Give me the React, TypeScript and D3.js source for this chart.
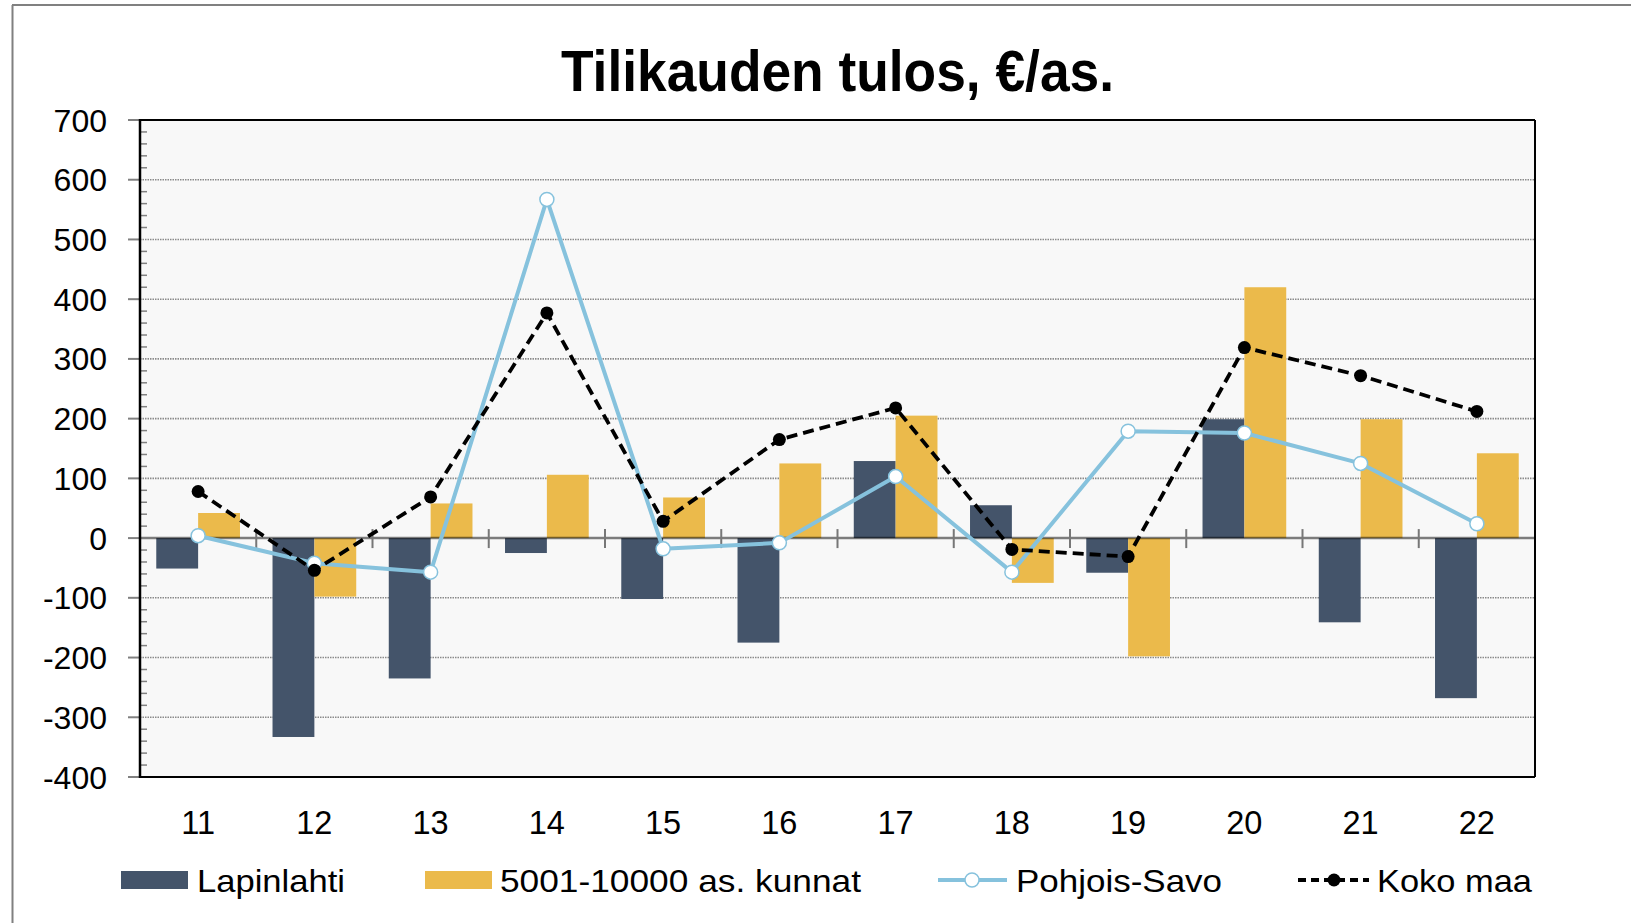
import React from "react";
import * as d3 from "d3";

const categories = ["11", "12", "13", "14", "15", "16", "17", "18", "19", "20", "21", "22"];
const lapinlahti = [-51, -333, -235, -25, -102, -175, 129, 55, -58, 199, -141, -268];
const kunnat = [42, -98, 58, 106, 68, 125, 205, -75, -198, 420, 199, 142];
const pohjoisSavo = [4, -42, -57, 567, -18, -8, 103, -57, 179, 176, 125, 24];
const kokoMaa = [78, -54, 69, 377, 28, 165, 218, -19, -31, 319, 272, 212];
const yTicks = [700, 600, 500, 400, 300, 200, 100, 0, -100, -200, -300, -400];
const barSeries = ["Lapinlahti", "5001-10000 as. kunnat"];
const title = "Tilikauden tulos, €/as.";

const W = 1631;
const H = 923;
const L = 140, R = 1535, T = 120, B = 777;
const FONT = "'Liberation Sans', Arial, sans-serif";
const DARK = "#44546A";
const YELLOW = "#EBBA4B";
const BLUE = "#86C2DD";

export default function App() {
  const x0 = d3.scaleBand<string>().domain(categories).range([L, R]).paddingInner(0.28).paddingOuter(0.14);
  const x1 = d3.scaleBand<string>().domain(barSeries).range([0, x0.bandwidth()]).padding(0);
  const y = d3.scaleLinear().domain([-400, 700]).range([B, T]);
  const cx = (c: string) => (x0(c) as number) + x0.bandwidth() / 2;
  const minorTicks = d3.range(-400, 701, 20).filter((v) => v % 100 !== 0);
  const lineGen = d3.line<[number, number]>().x((d) => d[0]).y((d) => d[1]);
  const psPts: [number, number][] = categories.map((c, i) => [cx(c), y(pohjoisSavo[i])]);
  const kmPts: [number, number][] = categories.map((c, i) => [cx(c), y(kokoMaa[i])]);
  const step = x0.step();
  const boundaries = d3.range(1, categories.length).map((i) => L + i * step);

  return (
    <svg width={W} height={H} style={{ position: "absolute", left: 0, top: 0, background: "#fff" }} fontFamily={FONT}>
      <line x1={12.5} y1={5} x2={12.5} y2={H} stroke="#808080" strokeWidth={2} />
      <line x1={12} y1={5} x2={W} y2={5} stroke="#808080" strokeWidth={2} />
      <text x={(L + R) / 2} y={91} textAnchor="middle" fontSize={57} fontWeight="bold" textLength={553} lengthAdjust="spacingAndGlyphs">{title}</text>

      <rect x={L} y={T} width={R - L} height={B - T} fill="#F8F8F8" />
      {yTicks.filter((v) => v !== 0 && v !== 700 && v !== -400).map((v) => (
        <line key={"g" + v} x1={L} x2={R} y1={y(v)} y2={y(v)} stroke="#8a8a8a" strokeWidth={1.6} strokeDasharray="1.5,1" />
      ))}

      {categories.map((c, i) => (
        <g key={"b" + c}>
          <rect x={(x0(c) as number) + (x1(barSeries[0]) as number)} width={x1.bandwidth()} y={Math.min(y(0), y(lapinlahti[i]))} height={Math.abs(y(lapinlahti[i]) - y(0))} fill={DARK} />
          <rect x={(x0(c) as number) + (x1(barSeries[1]) as number)} width={x1.bandwidth()} y={Math.min(y(0), y(kunnat[i]))} height={Math.abs(y(kunnat[i]) - y(0))} fill={YELLOW} />
        </g>
      ))}

      <line x1={L} x2={R} y1={y(0)} y2={y(0)} stroke="#000" strokeOpacity={0.5} strokeWidth={2.5} />
      {boundaries.map((bx, i) => (
        <line key={"xt" + i} x1={bx} x2={bx} y1={y(0) - 9} y2={y(0) + 10} stroke="#777" strokeWidth={2} />
      ))}

      <line x1={L} x2={R} y1={T} y2={T} stroke="#000" strokeWidth={2} />
      <line x1={R} x2={R} y1={T} y2={B} stroke="#000" strokeWidth={2} />
      <line x1={L} x2={R} y1={B} y2={B} stroke="#000" strokeWidth={2} />
      {yTicks.map((v) => (
        <line key={"mt" + v} x1={L - 12} x2={L} y1={y(v)} y2={y(v)} stroke="#808080" strokeWidth={2} />
      ))}
      {minorTicks.map((v) => (
        <line key={"mn" + v} x1={L} x2={L + 7} y1={y(v)} y2={y(v)} stroke="#808080" strokeWidth={1.5} />
      ))}
      <line x1={L} x2={L} y1={T - 1} y2={B + 1} stroke="#000" strokeWidth={2.5} />

      {yTicks.map((v) => (
        <text key={"yl" + v} x={107} y={y(v) + 11.5} textAnchor="end" fontSize={32}>{v}</text>
      ))}
      {categories.map((c) => (
        <text key={"xl" + c} x={cx(c)} y={834} textAnchor="middle" fontSize={32.5}>{c}</text>
      ))}

      <path d={lineGen(psPts) as string} fill="none" stroke={BLUE} strokeWidth={4} strokeLinejoin="round" />
      {psPts.map((p, i) => (
        <circle key={"ps" + i} cx={p[0]} cy={p[1]} r={7} fill="#fff" stroke={BLUE} strokeWidth={1.5} />
      ))}
      <path d={lineGen(kmPts) as string} fill="none" stroke="#000" strokeWidth={3.8} strokeDasharray="11,6" />
      {kmPts.map((p, i) => (
        <circle key={"km" + i} cx={p[0]} cy={p[1]} r={6.5} fill="#000" />
      ))}

      <rect x={121} y={871} width={67} height={18} fill={DARK} />
      <text x={197} y={892} fontSize={32} textLength={148} lengthAdjust="spacingAndGlyphs">Lapinlahti</text>
      <rect x={425} y={871} width={67} height={18} fill={YELLOW} />
      <text x={500} y={892} fontSize={32} textLength={361} lengthAdjust="spacingAndGlyphs">5001-10000 as. kunnat</text>
      <line x1={938} x2={1007} y1={880} y2={880} stroke={BLUE} strokeWidth={4} />
      <circle cx={972} cy={880} r={7} fill="#fff" stroke={BLUE} strokeWidth={1.5} />
      <text x={1016} y={892} fontSize={32} textLength={206} lengthAdjust="spacingAndGlyphs">Pohjois-Savo</text>
      <line x1={1298} x2={1369} y1={880} y2={880} stroke="#000" strokeWidth={3.8} strokeDasharray="8,5" />
      <circle cx={1334} cy={880} r={6.5} fill="#000" />
      <text x={1377} y={892} fontSize={32} textLength={155} lengthAdjust="spacingAndGlyphs">Koko maa</text>
    </svg>
  );
}
